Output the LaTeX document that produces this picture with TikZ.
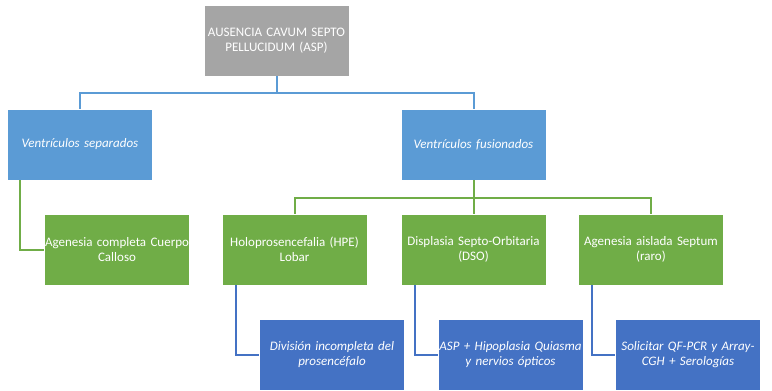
\documentclass[tikz,border=0pt]{standalone}
\usepackage{fontspec}
\setmainfont{Carlito}
\usepackage{tikz}
\usetikzlibrary{positioning}
\definecolor{grisbox}{HTML}{A5A5A5}
\definecolor{azulclaro}{HTML}{5B9BD5}
\definecolor{verde}{HTML}{70AD47}
\definecolor{azul}{HTML}{4472C4}
\tikzstyle{every node}+=[inner sep=0pt]
\tikzstyle{block} = [rectangle, draw=white, line width=0.5pt, text=white, font=\fontsize{13}{15}\selectfont, align=center, text width=143pt, minimum width=145pt, minimum height=71pt]
\tikzstyle{rootbox} = [block, fill=grisbox]
\tikzstyle{ventbox} = [block, fill=azulclaro, font=\fontsize{13}{15}\selectfont\itshape]
\tikzstyle{hallbox} = [block, fill=verde]
\tikzstyle{infobox} = [block, fill=azul, font=\fontsize{13}{15}\selectfont\itshape]
\tikzstyle{link} = [draw, line width=2pt]

\begin{document}
\begin{tikzpicture}[x=1pt, y=-1pt, node distance=104pt]
            \useasboundingbox (0,0) rectangle (772,391);
            % Place nodes
            \node [rootbox] (asp) at (276.5,40.5) {AUSENCIA CAVUM SEPTO\\PELLUCIDUM (ASP)};
            \node [ventbox, below of=asp, xshift=-196.5pt] (sep) {Ventrículos separados};
            \node [ventbox, below of=asp, xshift=197pt] (fus) {Ventrículos fusionados};
            \node [hallbox, below of=sep, node distance=105pt, xshift=37pt] (agc) {\makebox[\linewidth]{Agenesia completa Cuerpo}\\Calloso};
            \node [hallbox, below of=fus, node distance=105pt, xshift=-179pt] (hpe) {Holoprosencefalia (HPE)\\Lobar};
            \node [hallbox, below of=fus, node distance=105pt] (dso) {Displasia Septo-Orbitaria\\(DSO)};
            \node [hallbox, below of=fus, node distance=105pt, xshift=177.5pt] (aas) {Agenesia aislada Septum\\(raro)};
            \node [infobox, below of=hpe, node distance=105pt, xshift=37.5pt] (div) {División incompleta del\\prosencéfalo};
            \node [infobox, below of=dso, node distance=105pt, xshift=37pt] (hip) {ASP + Hipoplasia Quiasma\\y nervios ópticos};
            \node [infobox, below of=aas, node distance=105pt, xshift=37pt] (sol) {Solicitar QF-PCR y Array-\\CGH + Serologías};
            % Draw edges
            \path [link, azulclaro] (asp.south) -- ++(0,-17pt) -| (sep.north);
            \path [link, azulclaro] (asp.south) -- ++(0,-17pt) -| (fus.north);
            \path [link, verde] ([xshift=13pt]sep.south west) |- (agc.west);
            \path [link, verde] (fus.south) -- ++(0,-18pt) -| (hpe.north);
            \path [link, verde] (fus.south) -- ++(0,-18pt) -| (dso.north);
            \path [link, verde] (fus.south) -- ++(0,-18pt) -| (aas.north);
            \path [link, azul] ([xshift=14pt]hpe.south west) |- (div.west);
            \path [link, azul] ([xshift=14pt]dso.south west) |- (hip.west);
            \path [link, azul] ([xshift=14pt]aas.south west) |- (sol.west);
          \end{tikzpicture}
\end{document}
